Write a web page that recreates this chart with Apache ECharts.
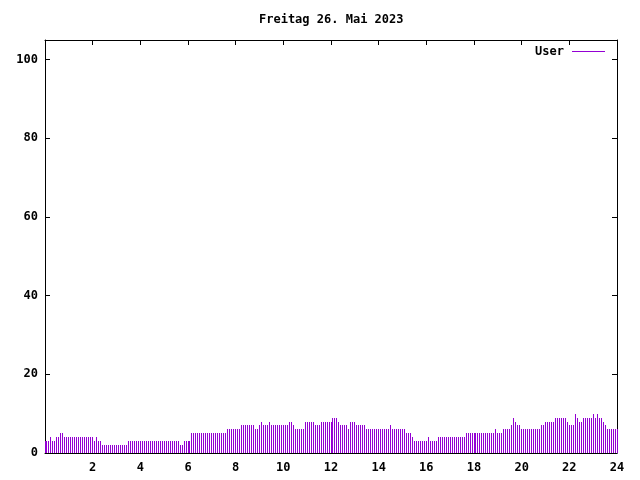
<!DOCTYPE html>
<html>
<head>
<meta charset="utf-8">
<script src="https://cdn.jsdelivr.net/npm/echarts@6/dist/echarts.min.js"></script>
<style>html,body{margin:0;padding:0;background:#fff}#c{width:640px;height:480px}</style>
</head>
<body>
<div id="c"></div>
<script>
// 5-minute samples from 00:00 to 24:00 (289 values)
var userValues = [
  3,3,3,4,3,3,4,4,5,5,4,4,
  4,4,4,4,4,4,4,4,4,4,4,4,
  4,3,4,3,3,2,2,2,2,2,2,2,
  2,2,2,2,2,2,3,3,3,3,3,3,
  3,3,3,3,3,3,3,3,3,3,3,3,
  3,3,3,3,3,3,3,3,2,2,3,3,
  3,3,5,5,5,5,5,5,5,5,5,5,
  5,5,5,5,5,5,5,5,6,6,6,6,
  6,6,6,7,7,7,7,7,7,7,6,6,
  7,8,7,7,7,8,7,7,7,7,7,7,
  7,7,7,8,8,7,6,6,6,6,6,8,
  8,8,8,8,7,7,7,8,8,8,8,8,
  8,9,9,9,8,7,7,7,7,6,8,8,
  8,7,7,7,7,7,6,6,6,6,6,6,
  6,6,6,6,6,6,7,6,6,6,6,6,
  6,6,5,5,5,4,3,3,3,3,3,3,
  3,4,3,3,3,3,4,4,4,4,4,4,
  4,4,4,4,4,4,4,4,5,5,5,5,
  5,5,5,5,5,5,5,5,5,5,5,6,
  5,5,5,6,6,6,6,7,9,8,7,7,
  6,6,6,6,6,6,6,6,6,6,7,7,
  8,8,8,8,8,9,9,9,9,9,9,8,
  7,7,7,10,9,8,8,9,9,9,9,9,
  10,9,10,9,9,8,7,6,6,6,6,6,
  6
];
var sampleMinutes = 5;
var xTicks = [0,2,4,6,8,10,12,14,16,18,20,22,24];
var yTicks = [0,20,40,60,80,100];
var titleText = 'Freitag 26. Mai 2023';
var seriesName = 'User';
var barColor = '#9400D3';

var points = userValues.map(function (v, i) { return [i * sampleMinutes / 60, v]; });

var font = 'DejaVu Sans Mono';
var chart = echarts.init(document.getElementById('c'), null, {renderer: 'canvas'});
var axisLine = {show: true, onZero: false, lineStyle: {color: '#000', width: 1}};
var tick = {show: true, inside: true, length: 5, lineStyle: {color: '#000', width: 1}};
chart.setOption({
  animation: false,
  backgroundColor: '#fff',
  title: {
    text: titleText, left: 259, top: 14, padding: 0,
    textStyle: {fontFamily: font, fontSize: 12, fontWeight: 'bold', color: '#000'}
  },
  legend: {
    data: [{name: seriesName, icon: 'rect', itemStyle: {color: barColor}}],
    right: 30, top: 40.5, align: 'right',
    itemWidth: 33, itemHeight: 1, itemGap: 0,
    textStyle: {fontFamily: font, fontSize: 12, fontWeight: 'bold', color: '#000', padding: [0, 3, 0, 0]}
  },
  grid: {left: 45, right: 23, top: 40, bottom: 27},
  xAxis: [{
    type: 'value', min: xTicks[0], max: xTicks[xTicks.length - 1], interval: 2,
    axisLine: axisLine, axisTick: tick, splitLine: {show: false},
    axisLabel: {
      margin: 9, color: '#000', fontFamily: font, fontSize: 12, fontWeight: 'bold',
      formatter: function (v) { return v === 0 ? '' : String(v); }
    }
  }, {
    type: 'value', position: 'top', min: xTicks[0], max: xTicks[xTicks.length - 1], interval: 2,
    axisLine: axisLine, axisTick: tick, axisLabel: {show: false}, splitLine: {show: false}
  }],
  yAxis: [{
    type: 'value', min: 0, max: 105, interval: 20,
    axisLine: axisLine, axisTick: tick, splitLine: {show: false},
    axisLabel: {
      margin: 7, color: '#000', fontFamily: font, fontSize: 12, fontWeight: 'bold',
      formatter: function (v) { return yTicks.indexOf(v) >= 0 ? String(v) : ''; }
    }
  }, {
    type: 'value', position: 'right', min: 0, max: 105, interval: 20,
    axisLine: axisLine, axisTick: tick, axisLabel: {show: false}, splitLine: {show: false}
  }],
  series: [{
    name: seriesName, type: 'custom', xAxisIndex: 0, yAxisIndex: 0,
    data: points,
    itemStyle: {color: barColor},
    renderItem: function (params, api) {
      var top = api.coord([api.value(0), api.value(1)]);
      var base = api.coord([api.value(0), 0]);
      var x = Math.floor(top[0]);
      var y = Math.round(top[1]);
      return {
        type: 'rect',
        shape: {x: x, y: y, width: 1, height: Math.round(base[1]) - y},
        style: {fill: barColor}
      };
    }
  }]
});
</script>
</body>
</html>
